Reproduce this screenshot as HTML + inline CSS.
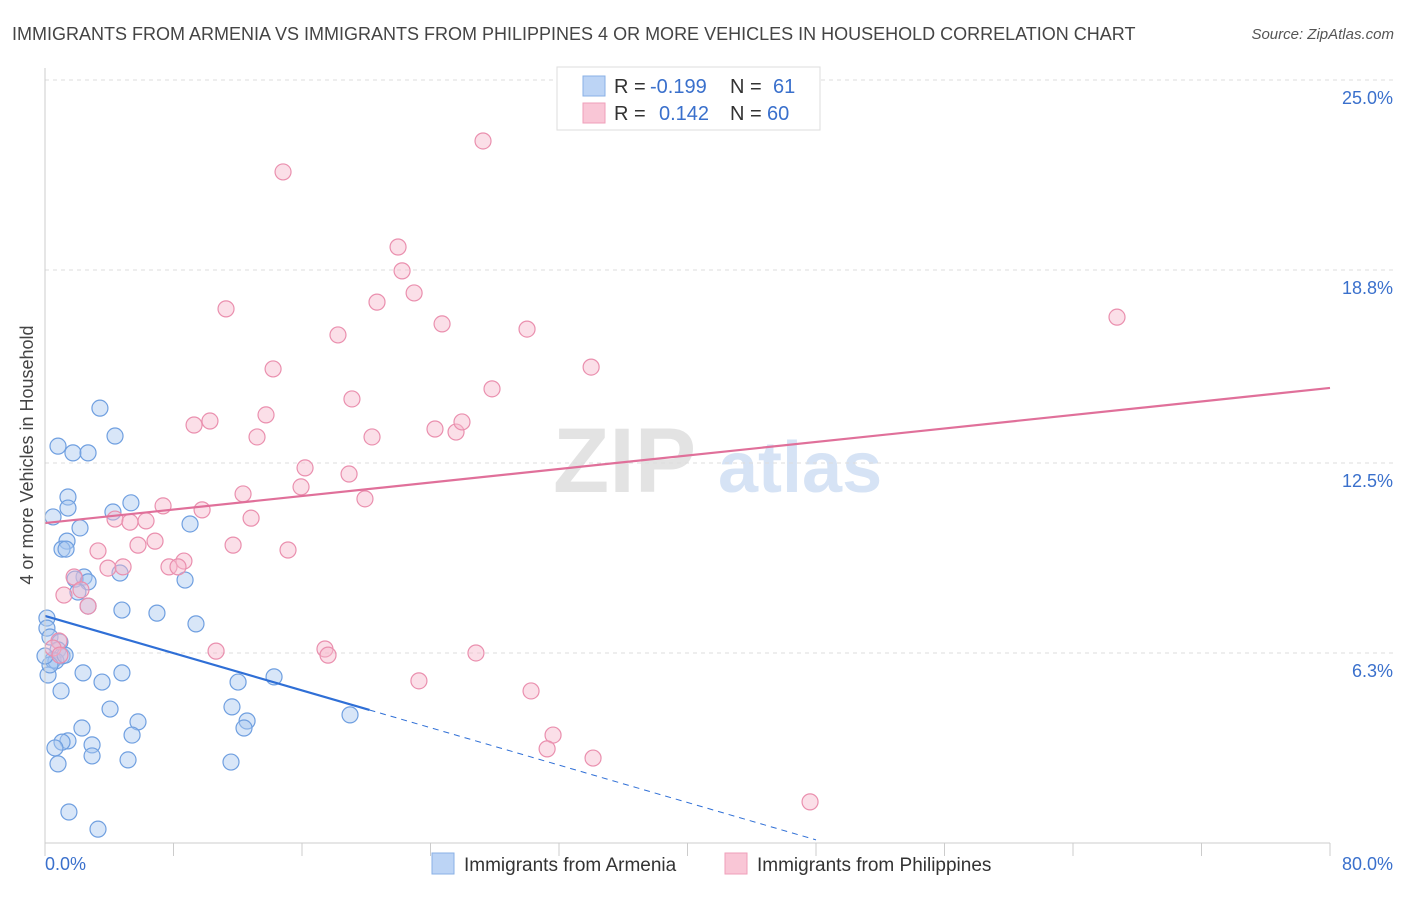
<!DOCTYPE html>
<html><head><meta charset="utf-8"><style>
body{margin:0;background:#fff;font-family:"Liberation Sans",sans-serif;}
svg text{font-family:"Liberation Sans",sans-serif;}
</style></head><body>
<svg id="c" width="1406" height="892" xmlns="http://www.w3.org/2000/svg">
<text x="12" y="40" font-size="18" fill="#444">IMMIGRANTS FROM ARMENIA VS IMMIGRANTS FROM PHILIPPINES 4 OR MORE VEHICLES IN HOUSEHOLD CORRELATION CHART</text>
<text x="1394" y="39" font-size="15" fill="#555" font-style="italic" text-anchor="end">Source: ZipAtlas.com</text>
<text x="33" y="455" font-size="18" fill="#444" text-anchor="middle" transform="rotate(-90 33 455)">4 or more Vehicles in Household</text>
<g>
<text x="553" y="492" font-size="92" fill="#e3e3e3" font-family="Liberation Serif" font-weight="bold">ZIP</text>
<text x="718" y="492" font-size="72" fill="#d6e3f5" font-weight="bold">atlas</text>
</g>
<g id="grid"></g><g id="marks"></g><g id="axes"></g>
<g>
<rect x="557" y="67" width="263" height="63" fill="#fff" stroke="#ddd"/>
<rect x="583" y="76" width="22" height="20" fill="#bcd4f5" stroke="#8ab0e6"/>
<rect x="583" y="103" width="22" height="20" fill="#f9c6d6" stroke="#ef9fba"/>
<text x="614" y="93" font-size="20" fill="#333">R =</text><text x="650" y="93" font-size="20" fill="#3a70cc">-0.199</text>
<text x="730" y="93" font-size="20" fill="#333">N =</text><text x="773" y="93" font-size="20" fill="#3a70cc">61</text>
<text x="614" y="120" font-size="20" fill="#333">R =</text><text x="659" y="120" font-size="20" fill="#3a70cc">0.142</text>
<text x="730" y="120" font-size="20" fill="#333">N =</text><text x="767" y="120" font-size="20" fill="#3a70cc">60</text>
</g>
<g>
<rect x="432" y="853" width="22" height="21" fill="#bcd4f5" stroke="#8ab0e6"/>
<text x="464" y="871" font-size="19" fill="#333">Immigrants from Armenia</text>
<rect x="725" y="853" width="22" height="21" fill="#f9c6d6" stroke="#ef9fba"/>
<text x="757" y="871" font-size="19" fill="#333">Immigrants from Philippines</text>
</g>
</svg>
<script>
const yTicks=[6.3,12.5,18.8,25.0];
const yTickLabels=["6.3%","12.5%","18.8%","25.0%"];
const xTickCount=10;
const armeniaX=[3.42,4.36,0.81,1.74,2.68,1.43,5.35,1.43,0.50,4.23,2.18,9.03,1.37,1.06,1.31,4.67,2.43,1.87,2.68,8.72,2.05,2.68,4.79,6.97,9.40,0.12,0.12,0.31,0.93,0.81,1.06,0.50,0.68,0.19,2.37,4.79,3.55,14.26,12.02,1.00,4.05,11.64,5.79,12.58,2.30,12.39,5.42,1.43,1.06,0.62,2.93,2.93,0.81,5.17,11.58,18.99,1.49,3.30,0.31,1.25,0.00];
const armeniaY=[14.29,13.38,13.05,12.83,12.83,11.39,11.20,11.03,10.74,10.90,10.38,10.51,9.95,9.69,9.69,8.91,8.78,8.71,8.62,8.68,8.29,7.83,7.70,7.60,7.25,7.44,7.11,6.82,6.66,6.40,6.20,6.07,6.04,5.58,5.65,5.65,5.35,5.52,5.35,5.06,4.47,4.54,4.05,4.08,3.85,3.85,3.62,3.43,3.39,3.20,3.30,2.94,2.68,2.81,2.74,4.28,1.11,0.55,5.91,6.23,6.20];
const philX=[27.27,14.82,21.98,22.23,20.67,22.98,11.27,24.72,30.01,18.24,34.00,14.20,27.83,19.11,13.76,10.27,9.28,13.20,20.36,24.28,25.59,25.96,16.19,18.93,15.94,12.33,19.92,7.35,9.78,4.36,5.29,6.29,12.83,6.85,5.79,11.71,3.30,15.13,8.65,3.92,4.86,7.72,8.28,1.81,2.24,1.18,2.68,0.87,0.50,10.65,17.43,17.62,26.83,0.93,23.28,30.26,31.63,31.26,34.12,47.63,66.74];
const philY=[23.01,22.00,19.55,18.77,17.75,18.05,17.53,17.04,16.87,16.68,15.63,15.57,14.92,14.59,14.07,13.87,13.74,13.35,13.35,13.61,13.51,13.84,12.34,12.14,11.72,11.49,11.33,11.10,10.97,10.67,10.57,10.61,10.70,9.95,9.82,9.82,9.63,9.66,9.30,9.07,9.11,9.11,9.11,8.78,8.36,8.19,7.83,6.69,6.46,6.36,6.43,6.23,6.30,6.23,5.39,5.06,3.62,3.17,2.87,1.44,17.26];
const armeniaTrend=[[0,7.51],[20.2,4.44],[48,0.2]];
const philTrend=[[0,10.54],[80,14.95]];
const X0=45,X1=1330,Y0=846,PXY=30.64;
function sx(v){return X0+v*(X1-X0)/80;}
function sy(v){return Y0-v*PXY;}
const NS="http://www.w3.org/2000/svg";
function mk(t,a,p){const e=document.createElementNS(NS,t);for(const k in a)e.setAttribute(k,a[k]);p.appendChild(e);return e;}
const grid=document.getElementById('grid'),marks=document.getElementById('marks'),axes=document.getElementById('axes');
let g=mk('line',{x1:X0,x2:1393,y1:sy(25)+0,y2:sy(25),stroke:'#ddd','stroke-dasharray':'4 4'},grid);


yTicks.forEach((t,i)=>{
 const l=mk('line',{x1:X0,x2:1393,y1:sy(t),y2:sy(t),stroke:'#ddd','stroke-dasharray':'4 4'},grid);
 
 
 const tx=mk('text',{x:1393,y:sy(t)+24,'font-size':18,fill:'#3a70cc','text-anchor':'end'},axes);
 tx.textContent=yTickLabels[i];
 
 
});
let ax=mk('line',{x1:X0,x2:X0,y1:68,y2:843,stroke:'#ccc'},axes);


let bx=mk('line',{x1:X0,x2:X1,y1:843,y2:843,stroke:'#ccc'},axes);


for(let i=0;i<=xTickCount;i++){
 const t=mk('line',{x1:sx(i*8),x2:sx(i*8),y1:843,y2:856,stroke:'#ccc'},axes);
 
 
}
let xl=mk('text',{x:45,y:870,'font-size':18,fill:'#3a70cc'},axes);xl.textContent='0.0%';


let xr=mk('text',{x:1393,y:870,'font-size':18,fill:'#3a70cc','text-anchor':'end'},axes);xr.textContent='80.0%';


function pts(xs,ys,fill,stroke,name){
 xs.forEach((x,i)=>{
  const c=mk('circle',{cx:sx(x),cy:sy(ys[i]),r:8,fill:fill,'fill-opacity':0.45,stroke:stroke,'stroke-width':1.2},marks);
  
  
 });
}
pts(armeniaX,armeniaY,'#a9c7f0','#6f9fe0','point-armenia');
pts(philX,philY,'#f7b7cb','#ea8fae','point-philippines');
let t1=mk('line',{x1:sx(armeniaTrend[0][0]),y1:sy(armeniaTrend[0][1]),x2:sx(armeniaTrend[1][0]),y2:sy(armeniaTrend[1][1]),stroke:'#2f6fd6','stroke-width':2.2},marks);


let t2=mk('line',{x1:sx(armeniaTrend[1][0]),y1:sy(armeniaTrend[1][1]),x2:sx(armeniaTrend[2][0]),y2:sy(armeniaTrend[2][1]),stroke:'#2f6fd6','stroke-width':1,'stroke-dasharray':'6 5'},marks);


let t3=mk('line',{x1:sx(philTrend[0][0]),y1:sy(philTrend[0][1]),x2:sx(philTrend[1][0]),y2:sy(philTrend[1][1]),stroke:'#e0709a','stroke-width':2.2},marks);


</script>
</body></html>
